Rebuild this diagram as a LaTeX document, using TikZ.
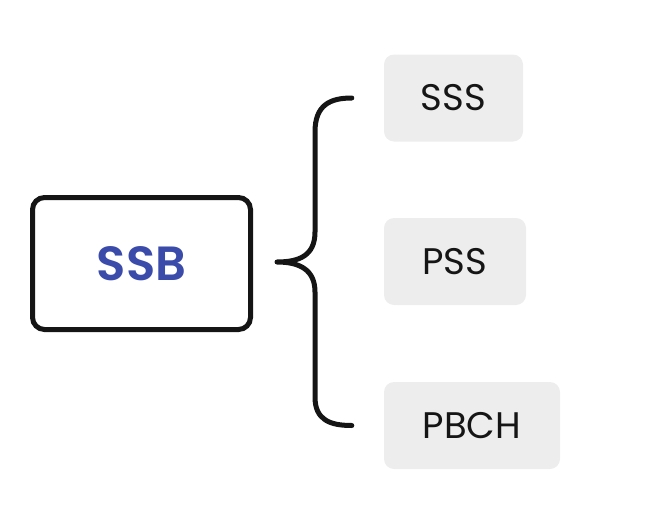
\documentclass[tikz,border=0pt]{standalone}
\usepackage{fontspec}
\setmainfont{Poppins}[BoldFont=Poppins SemiBold]
\definecolor{ssbblue}{HTML}{3B4BAA}
\definecolor{boxgray}{HTML}{EDEDED}
\definecolor{ink}{HTML}{151515}
\begin{document}
\begin{tikzpicture}[x=1pt,y=-1pt,
  mainbox/.style={draw=ink,line width=5pt,rounded corners=12pt,fill=white,
    minimum width=218pt,minimum height=132pt,inner sep=0pt,
    font=\fontsize{48}{56}\selectfont\bfseries,text=ssbblue},
  leaf/.style={fill=boxgray,rounded corners=10pt,inner sep=0pt,
    minimum height=87pt,font=\fontsize{37}{44}\selectfont,text=ink},
  bracestyle/.style={draw=ink,line width=5pt,line cap=round,line join=round}]
\useasboundingbox (0,0) rectangle (657,517);
\node[mainbox] (ssb) at (141.5,263.5) {SSB};
\node[leaf,minimum width=139pt] (sss) at (453.5,98) {SSS};
\node[leaf,minimum width=142pt] (pss) at (455,261.5) {PSS};
\node[leaf,minimum width=176pt] (pbch) at (472,425.5) {PBCH};
\coordinate (tip) at (277,262);
\coordinate (top) at ([xshift=-32pt]sss.west);
\coordinate (bot) at ([xshift=-32pt]pbch.west);
\draw[bracestyle] (top) .. controls (330,98) and (315,105) .. (315,132)
  -- (315,232) .. controls (315,255) and (300,262) .. (tip)
  .. controls (300,262) and (315,270) .. (315,292)
  -- (315,397) .. controls (315,420) and (330,425.5) .. (bot);
\end{tikzpicture}
\end{document}
